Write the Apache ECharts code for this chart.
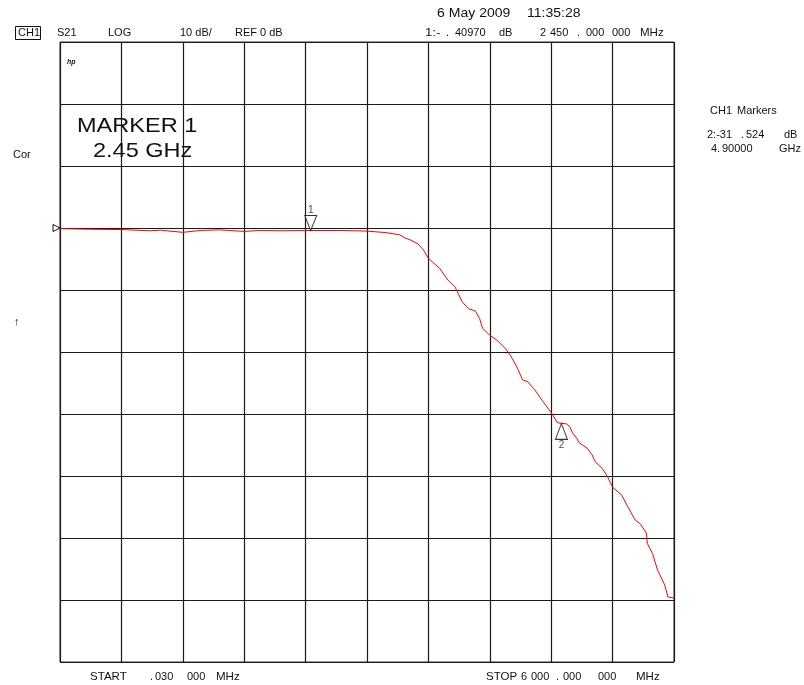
<!DOCTYPE html>
<html><head><meta charset="utf-8">
<script src="https://cdn.jsdelivr.net/npm/echarts@6/dist/echarts.min.js"></script>
<style>html,body{margin:0;padding:0;background:#fff}#c{width:804px;height:685px}</style>
</head><body><div id="c"></div>
<script>
// Frequency (GHz) and S21 (dB)
const freqGHz = [0.00003,0.29,0.6,0.88,0.98,1.2,1.37,1.56,1.8,1.95,2.15,2.45,2.74,3.0,3.19,3.32,3.37,3.42,3.50,3.55,3.60,3.71,3.79,3.86,3.93,3.99,4.06,4.10,4.13,4.20,4.27,4.35,4.40,4.47,4.52,4.57,4.64,4.72,4.81,4.86,4.90,4.95,4.98,5.01,5.05,5.07,5.15,5.20,5.23,5.30,5.35,5.40,5.49,5.54,5.62,5.67,5.73,5.74,5.79,5.84,5.91,5.94,6.0];
const s21dB = [-0.1,-0.2,-0.25,-0.45,-0.35,-0.7,-0.4,-0.3,-0.55,-0.4,-0.45,-0.41,-0.4,-0.5,-0.75,-1.1,-1.6,-1.9,-2.6,-3.5,-4.9,-6.5,-8.4,-9.5,-11.9,-13.0,-13.4,-14.6,-16.2,-17.3,-18.1,-19.4,-20.5,-22.6,-24.5,-24.8,-26.1,-28.0,-30.0,-31.4,-31.5,-31.6,-32.0,-33.1,-33.9,-34.6,-35.5,-36.6,-37.7,-38.8,-40.1,-41.8,-43.1,-44.7,-47.1,-47.7,-49.2,-50.9,-52.5,-55.2,-57.6,-59.5,-59.7];
const marker1 = [2.45, -0.40970];
const marker2 = [4.90, -31.524];
const refLevel = 0;
const yMin = -70, yMax = 30, yStep = 10;
const xMin = 0, xMax = 6, xStep = 0.6;

const FONT = '"Liberation Sans", Arial, sans-serif';
const chart = echarts.init(document.getElementById('c'), null, {renderer:'canvas'});
// text piece: x = left, yc = vertical centre
const t = (x,yc,s,size,sx) => ({type:'text', x:x, y:yc, scaleX:sx||1, z:10,
  style:{text:s, font:`${size||11}px ${FONT}`, fill:'#111', textVerticalAlign:'middle', verticalAlign:'middle'}});

const option = {
  animation:false,
  backgroundColor:'#fff',
  grid:{left:60, top:42, width:614, height:620, show:true, borderColor:'#333', borderWidth:1},
  xAxis:{type:'value', min:xMin, max:xMax, interval:xStep,
    axisLine:{show:false}, axisTick:{show:false}, axisLabel:{show:false},
    splitLine:{show:true, lineStyle:{color:'#1a1a1a', width:1.2}}},
  yAxis:{type:'value', min:yMin, max:yMax, interval:yStep,
    axisLine:{show:false}, axisTick:{show:false}, axisLabel:{show:false},
    splitLine:{show:true, lineStyle:{color:'#1a1a1a', width:1.2}}},
  series:[
    {type:'line', data:freqGHz.map((f,i)=>[f,s21dB[i]]), showSymbol:false, symbol:'none',
      lineStyle:{color:'#ff0000', width:1}, z:3},
    {type:'scatter', data:[marker1], symbol:'path://M0,0 L10,0 L5,12 Z', symbolSize:[12,15],
      symbolOffset:[0,-7.5], itemStyle:{color:'#fff', borderColor:'#000', borderWidth:1}, z:5,
      label:{show:true, formatter:'1', position:'top', distance:0, color:'#111', fontSize:10, fontFamily:FONT}},
    {type:'scatter', data:[marker2], symbol:'path://M5,0 L10,12 L0,12 Z', symbolSize:[12,16],
      symbolOffset:[0,8], itemStyle:{color:'#fff', borderColor:'#000', borderWidth:1}, z:5,
      label:{show:true, formatter:'2', position:'bottom', distance:0, color:'#111', fontSize:10, fontFamily:FONT}}
  ]
};
chart.setOption(option);

const refY = chart.convertToPixel({yAxisIndex:0}, refLevel);
chart.setOption({graphic:[
  {type:'rect', shape:{x:15.5,y:26.5,width:25,height:13}, style:{fill:'none', stroke:'#111', lineWidth:1}},
  t(18,33,'CH1'), t(57,33,'S21'), t(108,33,'LOG'), t(180,33,'10 dB/'), t(235,33,'REF 0 dB'),
  t(437,13,'6 May 2009',13,1.08), t(527,13,'11:35:28',13,1.08),
  t(425,33,'1:-',11,1.2), t(446,33,'.',11), t(455,33,'40970',11),
  t(499,33,'dB',11), t(540,33,'2',11), t(550,33,'450',11), t(577,33,'.',11),
  t(586,33,'000',11), t(612,33,'000',11), t(640,33,'MHz',11,1.05),
  {type:'text', x:67, y:62, z:10, style:{text:'hp', font:`italic bold 7px ${FONT}`, fill:'#111', verticalAlign:'middle'}},
  t(77,126,'MARKER 1',21,1.12), t(93,151,'2.45 GHz',21,1.12),
  t(13,155,'Cor',11), t(14,322,'↑',11),
  {type:'polygon', shape:{points:[[53,refY-3.5],[53,refY+3.5],[60,refY]]}, style:{fill:'none', stroke:'#111', lineWidth:1}},
  t(710,111,'CH1',11), t(737,111,'Markers',11),
  t(707,135,'2:-31',11), t(741,135,'.',11), t(746,135,'524',11), t(784,135,'dB',11),
  t(711,149,'4.',11), t(722,149,'90000',11), t(779,149,'GHz',11),
  t(90,677,'START',11,1.05), t(150,677,'.',11), t(155,677,'030',11), t(187,677,'000',11), t(216,677,'MHz',11,1.05),
  t(486,677,'STOP',11,1.05), t(521,677,'6',11), t(531,677,'000',11), t(556,677,'.',11), t(563,677,'000',11),
  t(598,677,'000',11), t(636,677,'MHz',11,1.05)
]});
</script></body></html>
